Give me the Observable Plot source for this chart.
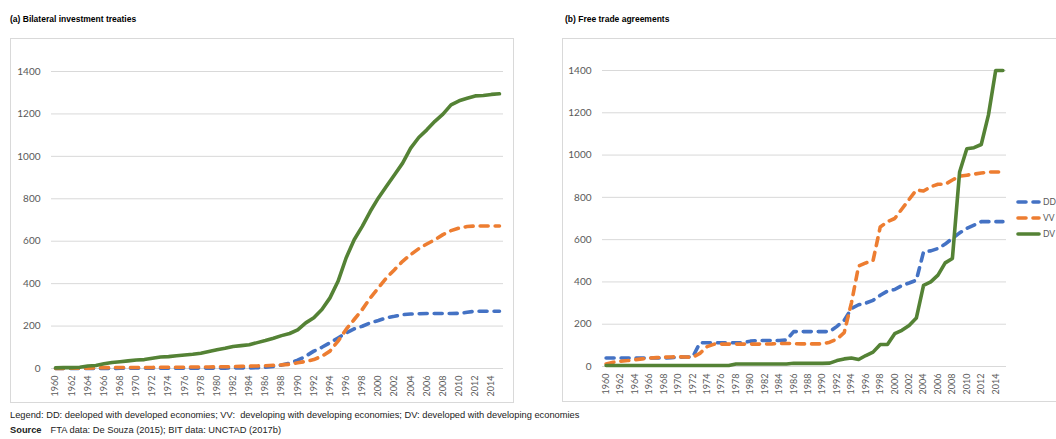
<!DOCTYPE html>
<html>
<head>
<meta charset="utf-8">
<script src="https://cdn.jsdelivr.net/npm/d3@7"></script>
<script src="https://cdn.jsdelivr.net/npm/@observablehq/plot@0.6"></script>
<style>
  html, body { margin: 0; padding: 0; background: #fff; overflow: hidden; }
  #wrap { position: relative; width: 1056px; height: 439px; overflow: hidden; background: #fff; }
  .title { position: absolute; font-family: "Liberation Sans", Arial, sans-serif; font-weight: bold; font-size: 8.5px; color: #000; white-space: nowrap; }
  .box { position: absolute; border: 1px solid #d9d9d9; background: #fff; }
  .box svg { display: block; max-width: none !important; }
  .cap { position: absolute; font-family: "Liberation Sans", Arial, sans-serif; font-size: 9.3px; color: #222; white-space: nowrap; }
  #legend { position: absolute; left: 1012px; top: 192px; }
</style>
</head>
<body>
<div id="wrap">
  <div class="title" style="left:10px;top:14px">(a) Bilateral investment treaties</div>
  <div class="title" style="left:565px;top:14px">(b) Free trade agreements</div>
  <div id="a" class="box" style="left:10px;top:38px;width:502px;height:363px;"></div>
  <div id="b" class="box" style="left:562px;top:38px;width:520px;height:362px;"></div>
  <svg id="legend" width="44" height="52"></svg>
  <div class="cap" style="left:10px;top:410px">Legend: DD: deeloped with developed economies; VV:&nbsp; developing with developing economies; DV: developed with developing economies</div>
  <div class="cap" style="left:10px;top:425px"><b>Source</b><span style="display:inline-block;width:9px"></span>FTA data: De Souza (2015); BIT data: UNCTAD (2017b)</div>
</div>
<script>
// ---- data ----
const years = d3.range(1960, 2016);
const xTicks = d3.range(1960, 2015, 2);
const yTicks = [0, 200, 400, 600, 800, 1000, 1200, 1400];
const seriesNames = ["DD", "VV", "DV"];
const seriesColors = ["#4472C4", "#ED7D31", "#548235"];

// (a) Bilateral investment treaties
const bitDD = [0,0,0,0,0,0,0,0,1,1, 1,1,1,1,1,1,1,2,2,2, 2,2,3,3,3,
  4,6,10,16,25, 39,58,82,100,121, 144,168,187,199,215, 226,239,246,254,257, 258,259,259,259,259, 260,265,270,270,270, 270];
const bitVV = [0,0,1,1,2,3,4,4,5,5, 5,5,5,6,6,6,6,7,7,7, 8,8,9,10,11,12,13,15,17,20,
  27,33,42,58,82,129,184,231,278,333, 380,427,466,505,537,565,587,607,631,650, 662,669,672,672,672,672];
const bitDV = [3,4,4,6,12,14,22,28,32,36, 40,42,48,54,56,60,64,67,72,80, 88,95,104,108,112,122,132,143,155,165,
  182,215,239,278,333,411,521,607,670,741, 804,859,913,968,1039,1089,1125,1165,1199,1243, 1262,1274,1285,1287,1292,1295];

// (b) Free trade agreements
const ftaDD = [40,40,40,40,40,40,40,40,40,42, 44,45,45,112,112,112,112,112,112,112, 120,123,123,123,123,125,165,165,165,165,
  165,165,190,218,274,292,300,313,337,357, 364,383,395,408,542,547,558,579,606,632, 653,669,685,685,685,685];
const ftaVV = [12,20,25,28,32,36,40,42,44,45, 46,45,44,62,94,106,106,106,106,106, 106,106,106,107,109,109,108,107,107,107,
  107,115,130,160,300,475,490,500,660,685, 700,745,790,835,830,850,862,862,882,900, 905,910,915,920,920,920];
const ftaDV = [5,5,5,5,5,5,5,5,5,5, 5,5,5,5,5,5,5,5,12,12, 12,12,12,12,12,12,15,15,15,15,
  15,16,28,36,40,33,52,68,104,104, 155,171,194,229,384,400,432,490,511,920, 1030,1035,1050,1190,1400,1400];

const dashes = ["8,7", "8,7", null];

function toRows(arr) { return years.map((year, i) => ({year, value: arr[i]})); }

function chart(seriesArrs, o) {
  const lines = seriesArrs.map((arr, i) => Plot.line(toRows(arr), {
    x: "year", y: "value",
    stroke: seriesColors[i],
    strokeWidth: 3.6,
    strokeDasharray: dashes[i] || undefined,
    strokeLinecap: "round",
    strokeLinejoin: "round"
  }));
  return Plot.plot({
    width: o.width, height: o.height,
    marginTop: o.mt, marginBottom: o.mb, marginLeft: o.ml, marginRight: o.mr,
    style: {fontFamily: "Lato, 'Open Sans', sans-serif", fontSize: "10px", color: "#595959", background: "transparent", overflow: "visible", maxWidth: "none"},
    x: {type: "linear", domain: [1959.5, 2015.5]},
    y: {domain: [0, 1400]},
    marks: [
      Plot.gridY(yTicks, {stroke: "#d9d9d9", strokeOpacity: 1, strokeWidth: 1}),
      Plot.axisY(yTicks, {tickSize: 0, tickPadding: 11, label: null, fontSize: 10, tickFormat: d => String(d)}),
      Plot.axisX(xTicks, {tickSize: 0, tickPadding: 7, tickRotate: -90, tickFormat: d => String(d), label: null, fontSize: 9}),
      ...lines
    ]
  });
}

document.getElementById("a").appendChild(chart([bitDD, bitVV, bitDV], {width: 502, height: 363, mt: 32, mb: 34, ml: 40, mr: 10}));
document.getElementById("b").appendChild(chart([ftaDD, ftaVV, ftaDV], {width: 520, height: 362, mt: 31, mb: 35, ml: 39, mr: 77}));

// legend (non-data key)
const lg = d3.select("#legend");
seriesNames.forEach((name, i) => {
  const y = 10 + i * 16;
  lg.append("line").attr("x1", 6).attr("x2", 27).attr("y1", y).attr("y2", y)
    .attr("stroke", seriesColors[i]).attr("stroke-width", 3.6).attr("stroke-linecap", "round")
    .attr("stroke-dasharray", dashes[i] || null);
  lg.append("text").attr("x", 31).attr("y", y + 3).text(name)
    .attr("font-family", "Lato, sans-serif").attr("font-size", 8.5).attr("fill", "#595959");
});
</script>
</body>
</html>
